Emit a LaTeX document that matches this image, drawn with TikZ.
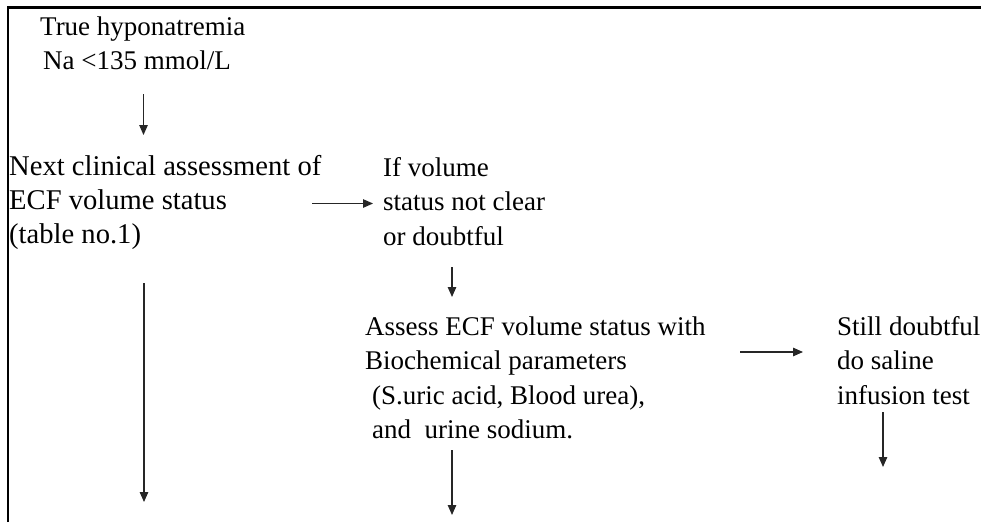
\documentclass[tikz,border=0pt]{standalone}
\usepackage{fontspec}
\setmainfont{Liberation Serif}
\usetikzlibrary{arrows.meta}
\newcommand\blk[1]{\begin{tabular}[t]{@{}l@{}}#1\end{tabular}}
\begin{document}
\begin{tikzpicture}[x=1pt,y=-1pt,
  txt/.style={anchor=base west, inner sep=0pt, font=\fontsize{27}{34.5}\selectfont},
  bigtxt/.style={txt, font=\fontsize{28.6}{34}\selectfont},
  arr/.style={-{Triangle[length=10pt,width=8.5pt]}, line width=1.2pt, black!85},
  frame/.style={line width=2.5pt, black}]
\useasboundingbox (0,0) rectangle (981,522);
% frame (top and left edges only)
\draw[frame] (8,522) -- (8,7.5) -- (981,7.5);
% text blocks
\node[txt] (true) at (40,35) {\blk{True hyponatremia\\\hspace{3pt}Na <135 mmol/L}};
\node[bigtxt] (next) at (9,175) {\blk{Next clinical assessment of\\ECF volume status\\(table no.1)}};
\node[txt] (ifvol) at (383,176) {\blk{If volume\\status not clear\\or doubtful}};
\node[txt] (assess) at (365,335) {\blk{Assess ECF volume status with\\Biochemical parameters\\\hspace{7pt}(S.uric acid, Blood urea),\\\hspace{7pt}and\ \ urine sodium.}};
\node[txt] (still) at (837,335) {\blk{Still doubtful\\do saline\\infusion test}};
% connector end points
\coordinate (a1s) at (143.5,94);  \coordinate (a1e) at (143.5,135);
\coordinate (a2s) at (312,203.5); \coordinate (a2e) at (373,203.5);
\coordinate (a3s) at (452,267);   \coordinate (a3e) at (452,297);
\coordinate (a4s) at (144,283);   \coordinate (a4e) at (144,502);
\coordinate (a5s) at (740,352);   \coordinate (a5e) at (803,352);
\coordinate (a6s) at (883,412);   \coordinate (a6e) at (883,467);
\coordinate (a7s) at (452,450);   \coordinate (a7e) at (452,515);
% connectors
\draw[arr] (a1s) -- (a1e);
\draw[arr] (a2s) -- (a2e);
\draw[arr] (a3s) -- (a3e);
\draw[arr] (a4s) -- (a4e);
\draw[arr] (a5s) -- (a5e);
\draw[arr] (a6s) -- (a6e);
\draw[arr] (a7s) -- (a7e);
\end{tikzpicture}
\end{document}
